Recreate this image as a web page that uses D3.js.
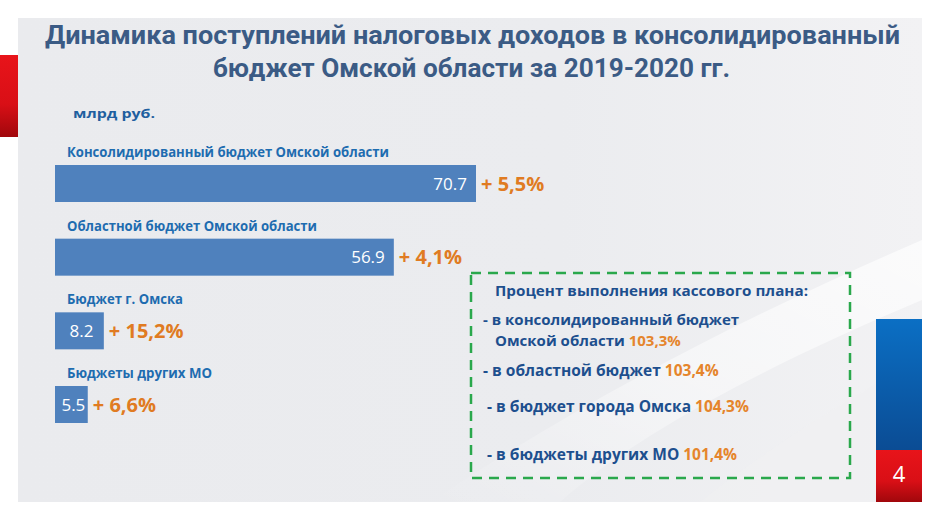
<!DOCTYPE html>
<html><head><meta charset="utf-8">
<script src="https://cdn.jsdelivr.net/npm/d3@7"></script>
<style>html,body{margin:0;padding:0;background:#fff;}svg{display:block;}</style>
</head><body>
<svg id="c" width="942" height="518"></svg>
<script>
const titleLines = ["Динамика поступлений налоговых доходов в консолидированный", "бюджет Омской области за 2019-2020 гг."];
const unitLabel = "млрд руб.";
const categories = ["Консолидированный бюджет Омской области", "Областной бюджет Омской области", "Бюджет г. Омска", "Бюджеты других МО"];
const values = [70.7, 56.9, 8.2, 5.5];
const valueLabels = ["70.7", "56.9", "8.2", "5.5"];
const growthLabels = ["+ 5,5%", "+ 4,1%", "+ 15,2%", "+ 6,6%"];
const planTitle = "Процент выполнения кассового плана:";
const planItems = [
  ["- в консолидированный бюджет", "Омской области "],
  ["- в областной бюджет "],
  ["- в бюджет города Омска "],
  ["- в бюджеты других МО "]
];
const planValues = ["103,3%", "103,4%", "104,3%", "101,4%"];
const pageNumber = "4";

const svg = d3.select("#c");
const defs = svg.append("defs");
const bgGrad = defs.append("linearGradient").attr("id","bg").attr("x1","0").attr("y1","0").attr("x2","1").attr("y2","0");
bgGrad.append("stop").attr("offset","0").attr("stop-color","#eaebee");
bgGrad.append("stop").attr("offset","0.6").attr("stop-color","#ebecef");
bgGrad.append("stop").attr("offset","1").attr("stop-color","#f2f2f4");
const redGrad = defs.append("linearGradient").attr("id","red").attr("x1","0").attr("y1","0").attr("x2","0").attr("y2","1");
redGrad.append("stop").attr("offset","0").attr("stop-color","#e8141a");
redGrad.append("stop").attr("offset","0.6").attr("stop-color","#d90f16");
redGrad.append("stop").attr("offset","1").attr("stop-color","#a0070c");
const blueGrad = defs.append("linearGradient").attr("id","blue").attr("x1","0").attr("y1","0").attr("x2","0").attr("y2","1");
blueGrad.append("stop").attr("offset","0").attr("stop-color","#0b6fc4");
blueGrad.append("stop").attr("offset","1").attr("stop-color","#0b4c94");
const swGrad = defs.append("linearGradient").attr("id","sw").attr("x1","0").attr("y1","1").attr("x2","1").attr("y2","0");
swGrad.append("stop").attr("offset","0").attr("stop-color","#ffffff").attr("stop-opacity","0");
swGrad.append("stop").attr("offset","0.5").attr("stop-color","#ffffff").attr("stop-opacity","0.45");
swGrad.append("stop").attr("offset","1").attr("stop-color","#ffffff").attr("stop-opacity","0.7");

// panel
svg.append("rect").attr("x",18).attr("y",18).attr("width",904).attr("height",484).attr("fill","url(#bg)");
// swoosh
svg.append("path").attr("d","M430,502 C600,390 760,310 922,240 L922,300 C780,360 640,430 560,502 Z").attr("fill","url(#sw)");
svg.append("path").attr("d","M700,502 C780,440 860,390 922,360 L922,502 Z").attr("fill","#f0f0f2").attr("opacity",0.6);
// left red
svg.append("rect").attr("x",0).attr("y",55).attr("width",18).attr("height",82).attr("fill","url(#red)");
// right flag
svg.append("rect").attr("x",876).attr("y",319).attr("width",46).attr("height",131).attr("fill","url(#blue)");
svg.append("rect").attr("x",876).attr("y",450).attr("width",46).attr("height",52).attr("fill","url(#red)");
svg.append("text").attr("x",899).attr("y",482).attr("text-anchor","middle").attr("fill","#fff")
  .attr("font-family","Open Sans, sans-serif").attr("font-size",22).text(pageNumber);

// title
const titleFont = "Roboto, 'Open Sans', sans-serif";
const tl = [[45, 44, 855], [213, 77, 517]];
titleLines.forEach((t,i)=>{
  svg.append("text").attr("x",tl[i][0]).attr("y",tl[i][1]).attr("textLength",tl[i][2]).attr("lengthAdjust","spacingAndGlyphs")
    .attr("font-family",titleFont).attr("font-weight","bold").attr("font-size",26).attr("fill","#3b5b85").text(t);
});
svg.append("text").attr("x",73).attr("y",118).attr("textLength",82).attr("lengthAdjust","spacingAndGlyphs")
  .attr("font-family","Open Sans, sans-serif").attr("font-weight","bold").attr("font-size",13).attr("fill","#1f5f9f").text(unitLabel);

// bars
const x = d3.scaleLinear().domain([0, 70.7]).range([0, 421]);
const y = d3.scalePoint().domain(categories).range([165, 386]);
const x0 = 55, bh = 37;
const labelLens = [322, 250, 116, 145];
const g = svg.append("g");
const rows = g.selectAll("g.row").data(categories).join("g").attr("class","row");
rows.append("text").attr("x",67).attr("y",d=>y(d)-8).attr("textLength",(d,i)=>labelLens[i]).attr("lengthAdjust","spacingAndGlyphs")
  .attr("font-family","Open Sans, sans-serif").attr("font-weight","bold").attr("font-size",14).attr("fill","#1e6cb0").text(d=>d);
rows.append("rect").attr("x",x0).attr("y",d=>y(d)).attr("width",(d,i)=>x(values[i])).attr("height",bh).attr("fill","#4f81bd");
rows.append("text")
  .attr("x",(d,i)=> x(values[i])>60 ? x0 + x(values[i]) - 9 : x0 + x(values[i])/2 + 2)
  .attr("y",d=>y(d)+bh/2+6)
  .attr("text-anchor",(d,i)=> x(values[i])>60 ? "end" : "middle")
  .attr("font-family","Open Sans, sans-serif").attr("font-size",17).attr("fill","#fff").text((d,i)=>valueLabels[i]);
rows.append("text").attr("x",(d,i)=>x0 + x(values[i]) + 5).attr("y",d=>y(d)+bh/2+7)
  .attr("font-family","Open Sans, sans-serif").attr("font-weight","bold").attr("font-size",20).attr("fill","#e07b22").text((d,i)=>growthLabels[i]);

// plan box
svg.append("rect").attr("x",471).attr("y",273).attr("width",379).attr("height",205).attr("fill","none")
  .attr("stroke","#2aa84c").attr("stroke-width",2.5).attr("stroke-dasharray","10,7");
svg.append("text").attr("x",495).attr("y",296).attr("textLength",313).attr("lengthAdjust","spacingAndGlyphs")
  .attr("font-family","Open Sans, sans-serif").attr("font-weight","bold").attr("font-size",15).attr("fill","#1d4f8e").text(planTitle);
const planPos = [[[483,325],[495,346]], [[483,376]], [[487,412]], [[487,460]]];
const planSizes = [15, 15.5, 15.5, 15.5];
const planBox = svg.append("g").attr("font-family","Open Sans, sans-serif").attr("font-weight","bold");
planItems.forEach((lines,i)=>{
  lines.forEach((ln,j)=>{
    const p = planPos[i][j];
    const t = planBox.append("text").attr("x",p[0]).attr("y",p[1]).attr("font-size",planSizes[i]).attr("fill","#1d4f8e");
    t.append("tspan").text(ln);
    if (j === lines.length-1) t.append("tspan").attr("fill","#e5852c").text(planValues[i]);
  });
});
</script>
</body></html>
